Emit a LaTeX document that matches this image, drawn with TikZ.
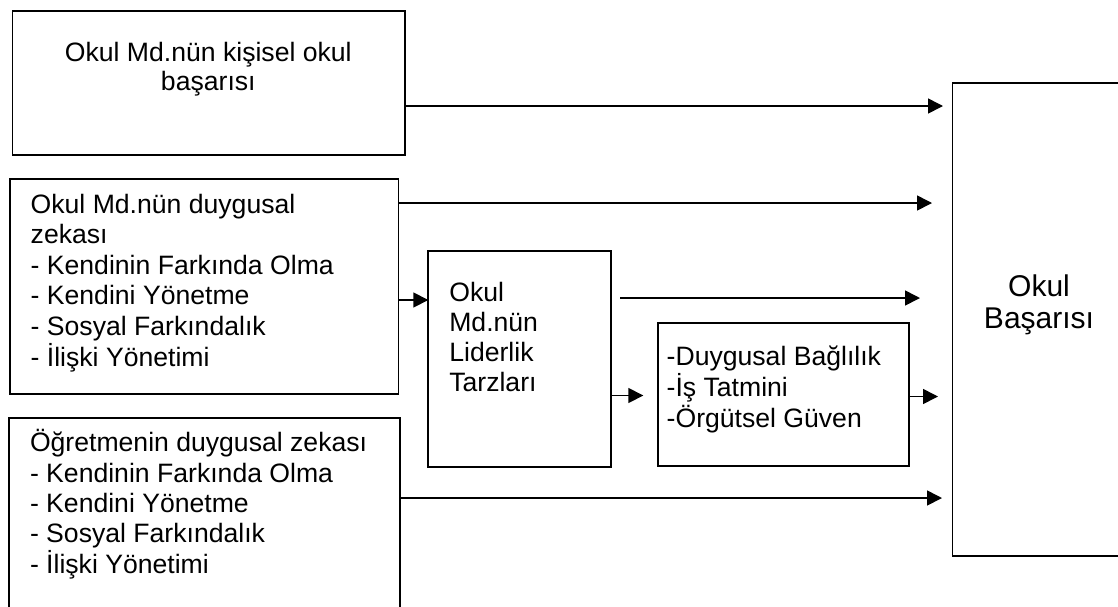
\documentclass[tikz,border=0pt]{standalone}
\usepackage{fontspec}
\setmainfont{Liberation Sans}
\usetikzlibrary{arrows.meta,calc}
\newcommand{\stackL}[1]{\vtop{\lineskiplimit=-\maxdimen\halign{##\hfil\cr#1\crcr}}}
\newcommand{\stackC}[1]{\vtop{\lineskiplimit=-\maxdimen\halign{\hfil##\hfil\cr#1\crcr}}}
\begin{document}
\begin{tikzpicture}[x=0.5pt,y=-0.5pt,
  box/.style={draw, line width=0.9pt, rectangle, inner sep=0pt, outer sep=0pt, anchor=north west},
  lbl/.style={inner sep=0pt, outer sep=0pt, font=\fontsize{13.3pt}{15.2pt}\selectfont},
  arr/.style={line width=0.8pt, -{Triangle[length=7.5pt,width=7.5pt]}}
]
\useasboundingbox (0,0) rectangle (1118,606);
\clip (0,0) rectangle (1118,606);
\fill[white] (0,0) rectangle (1118,606);
% boxes
\node[box, minimum width=196.25pt, minimum height=72pt] (b1) at (12.5,10.7) {};
\node[box, minimum width=194.25pt, minimum height=107.5pt] (b2) at (10,179) {};
\node[box, minimum width=195.5pt, minimum height=100pt] (b3) at (9,418) {};
\node[box, minimum width=91.35pt, minimum height=107.85pt] (mid) at (428.3,251) {};
\node[box, minimum width=125.5pt, minimum height=71.65pt] (sm) at (658.3,322.7) {};
\node[box, minimum width=100pt, minimum height=236.2pt] (rb) at (952.5,83.3) {};
% texts
\node[lbl, anchor=base, font=\fontsize{13.3pt}{14.85pt}\selectfont] (t1) at (208.3,61) {\stackC{Okul Md.nün kişisel okul\cr başarısı}};
\node[lbl, anchor=base west, font=\fontsize{13.3pt}{15.3pt}\selectfont] (t2) at (30.7,213) {\stackL{Okul Md.nün duygusal\cr zekası\cr - Kendinin Farkında Olma\cr - Kendini Yönetme\cr - Sosyal Farkındalık\cr - İlişki Yönetimi}};
\node[lbl, anchor=base west] (t3) at (30,451.7) {\stackL{Öğretmenin duygusal zekası\cr - Kendinin Farkında Olma\cr - Kendini Yönetme\cr - Sosyal Farkındalık\cr - İlişki Yönetimi}};
\node[lbl, anchor=base west, font=\fontsize{13.3pt}{15pt}\selectfont] (tm) at (449.3,301.7) {\stackL{Okul\cr Md.nün\cr Liderlik\cr Tarzları}};
\node[lbl, anchor=base west, font=\fontsize{13.3pt}{15.6pt}\selectfont] (ts) at (666.7,365) {\stackL{-Duygusal Bağlılık\cr -İş Tatmini\cr -Örgütsel Güven}};
\node[lbl, anchor=base, font=\fontsize{15pt}{15.8pt}\selectfont] (tr) at (1039,296.7) {\stackC{Okul\cr Başarısı}};
% arrows
\draw[arr, shorten >=4.75pt] (b1.east |- 0,106) -- (rb.west |- 0,106);
\draw[arr, shorten >=10.25pt] (b2.east |- 0,203) -- (rb.west |- 0,203);
\draw[arr] (b2.east |- 0,300) -- (mid.west |- 0,300);
\draw[arr, shorten <=4.5pt, shorten >=16.25pt] (mid.east |- 0,298) -- (rb.west |- 0,298);
\draw[arr, shorten >=7.5pt] (mid.east |- 0,395.5) -- (sm.west |- 0,395.5);
\draw[arr, shorten >=7.25pt] (sm.east |- 0,396.5) -- (rb.west |- 0,396.5);
\draw[arr, shorten >=5.25pt] (b3.east |- 0,498) -- (rb.west |- 0,498);
\end{tikzpicture}
\end{document}
